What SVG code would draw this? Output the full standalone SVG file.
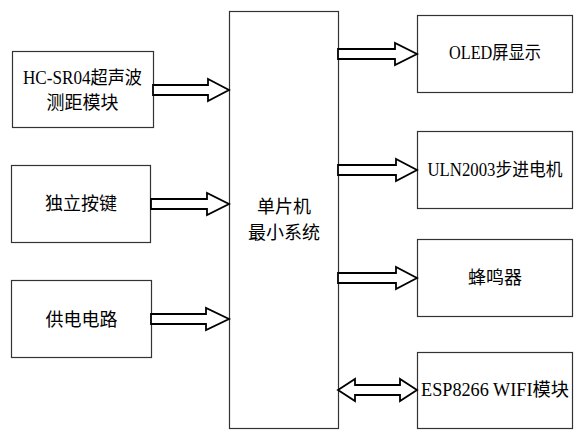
<svg xmlns="http://www.w3.org/2000/svg" width="585" height="441" viewBox="0 0 585 441">
<style>
.box{fill:#fff;stroke:#333;stroke-width:1.2}
.arr{fill:#fff;stroke:#000;stroke-width:1.8;stroke-linejoin:miter}
text{font-family:"Liberation Serif","Noto Sans CJK SC",serif;font-size:18px;fill:#000;text-anchor:middle;dominant-baseline:central}
</style>
<rect width="585" height="441" fill="#fff"/>
<g id="mcu"><rect class="box" x="229.5" y="11.5" width="109" height="417"/><text x="284" y="207">单片机</text><text x="284" y="233">最小系统</text></g>
<g id="hcsr04"><rect class="box" x="12.5" y="51.5" width="141" height="76"/><text x="82.5" y="78" textLength="119" lengthAdjust="spacingAndGlyphs">HC-SR04超声波</text><text x="82.5" y="103">测距模块</text></g>
<g id="keys"><rect class="box" x="11.5" y="165.5" width="139" height="77"/><text x="81" y="204">独立按键</text></g>
<g id="power"><rect class="box" x="11.5" y="280.5" width="140" height="77"/><text x="81.5" y="320">供电电路</text></g>
<g id="oled"><rect class="box" x="417.5" y="15.5" width="155" height="77"/><text x="495" y="53" textLength="92" lengthAdjust="spacingAndGlyphs">OLED屏显示</text></g>
<g id="uln"><rect class="box" x="417.5" y="131.5" width="155" height="77"/><text x="495" y="170" textLength="135" lengthAdjust="spacingAndGlyphs">ULN2003步进电机</text></g>
<g id="buzzer"><rect class="box" x="417.5" y="239.5" width="155" height="77"/><text x="495" y="278">蜂鸣器</text></g>
<g id="esp"><rect class="box" x="417.5" y="352.5" width="155" height="76"/><text x="495" y="390" textLength="148" lengthAdjust="spacingAndGlyphs">ESP8266 WIFI模块</text></g>
<g id="connectors">
<polygon class="arr" points="153,85 208,85 208,79 229,90 208,101 208,95 153,95"/>
<polygon class="arr" points="151,199 207,199 207,193 229,204 207,215 207,209 151,209"/>
<polygon class="arr" points="151,314 206,314 206,308 229,319 206,330 206,324 151,324"/>
<polygon class="arr" points="338,49 395,49 395,43 417,54 395,65 395,59 338,59"/>
<polygon class="arr" points="338,165 396,165 396,159 417,170 396,181 396,175 338,175"/>
<polygon class="arr" points="338,273 396,273 396,267 417,278 396,289 396,283 338,283"/>
<polygon class="arr" points="338,390 355,379 355,385 400,385 400,379 417,390 400,401 400,395 355,395 355,401"/>
</g>
</svg>
